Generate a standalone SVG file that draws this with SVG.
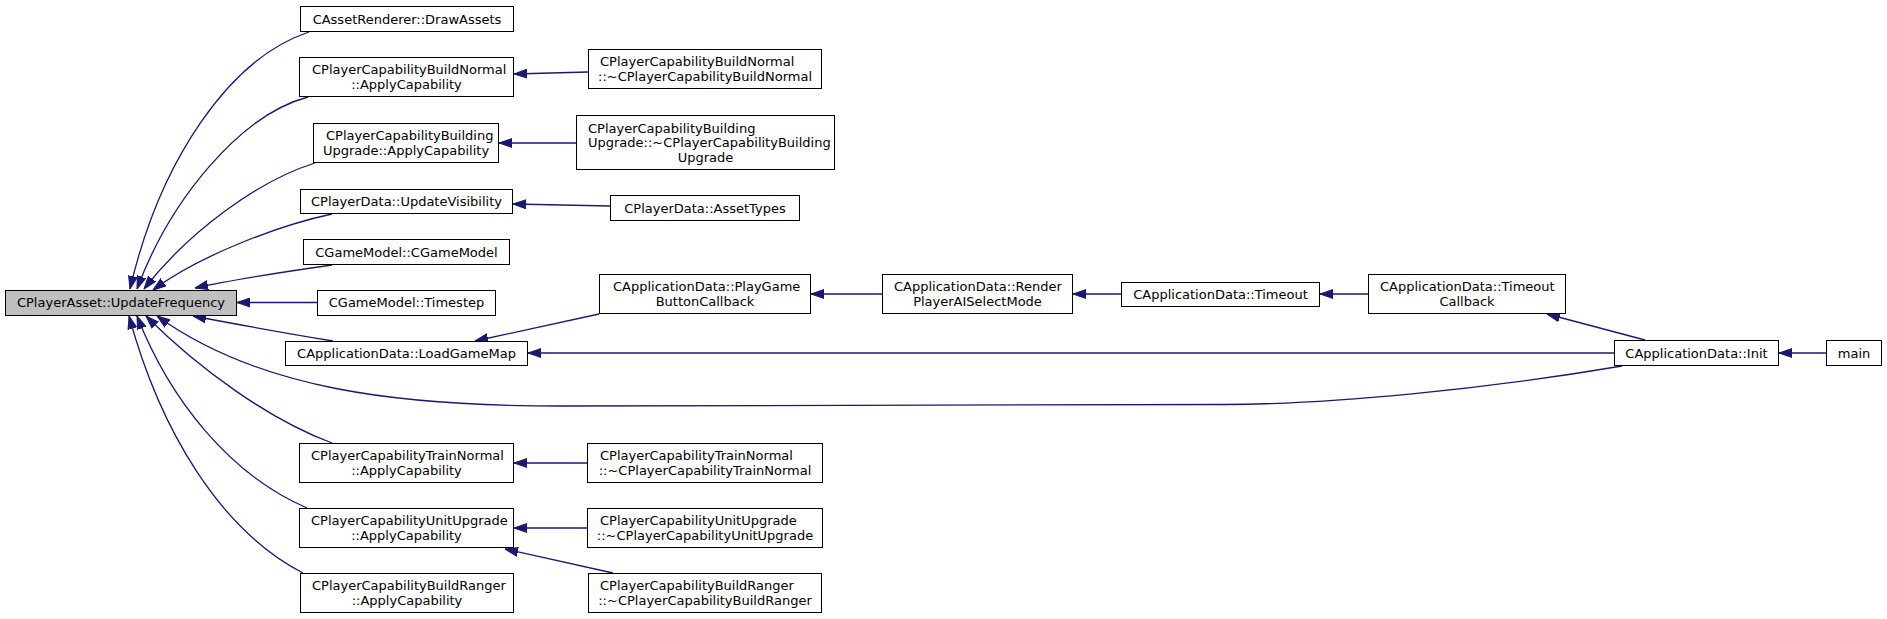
<svg xmlns="http://www.w3.org/2000/svg" width="1887" height="619" viewBox="0 0 1887 619">
<style>
.n rect{fill:#fff;stroke:#000;stroke-width:1}
.n.root rect{fill:#bfbfbf}
.n text{font-family:"DejaVu Sans","Liberation Sans",sans-serif;font-size:13px;fill:#000}
.m{text-anchor:middle}
.e path{fill:none;stroke:#191970;stroke-width:1.3}
</style>
<defs>
<marker id="ah" viewBox="0 0 13 10" refX="13" refY="5" markerWidth="13" markerHeight="10" markerUnits="userSpaceOnUse" orient="auto">
<path d="M0,0.5 L13,5 L0,9.5 z" fill="#191970" stroke="#191970" stroke-width="1"/>
</marker>
</defs>
<rect width="1887" height="619" fill="#fff"/>
<g class="e" id="edges">
<path marker-end="url(#ah)" d="M309,32 C230,58 160,160 130,289"/>
<path marker-end="url(#ah)" d="M308,97 C240,115 170,200 137,289"/>
<path marker-end="url(#ah)" d="M315,163 C260,180 190,230 144,289"/>
<path marker-end="url(#ah)" d="M332,214 C280,225 200,255 153,290"/>
<path marker-end="url(#ah)" d="M332,265 C290,271 230,280 195,288"/>
<path marker-end="url(#ah)" d="M317,302.5 L237,302.5"/>
<path marker-end="url(#ah)" d="M333,341 C290,334 230,323 193,316"/>
<path marker-end="url(#ah)" d="M1622,366 C1480,390 1330,404 1225,404.5 L560,406 C400,406 260,390 157,316"/>
<path marker-end="url(#ah)" d="M332,443 C270,420 200,370 146,316"/>
<path marker-end="url(#ah)" d="M307,508 C230,475 170,400 137,316"/>
<path marker-end="url(#ah)" d="M303,573 C220,530 160,430 129,316"/>
<path marker-end="url(#ah)" d="M588,72 L514,74"/>
<path marker-end="url(#ah)" d="M576,143 L499,143"/>
<path marker-end="url(#ah)" d="M610,206 L513,204"/>
<path marker-end="url(#ah)" d="M599,314 L475,341"/>
<path marker-end="url(#ah)" d="M1614,353 L528,353"/>
<path marker-end="url(#ah)" d="M882,294 L811,294"/>
<path marker-end="url(#ah)" d="M1121,294 L1073,294"/>
<path marker-end="url(#ah)" d="M1368,294 L1320,294"/>
<path marker-end="url(#ah)" d="M1645,340 L1547,314"/>
<path marker-end="url(#ah)" d="M1826,353 L1779,353"/>
<path marker-end="url(#ah)" d="M587,463 L514,463"/>
<path marker-end="url(#ah)" d="M587,528 L514,528"/>
<path marker-end="url(#ah)" d="M613,573 L505,549"/>
</g>
<g class="n root" id="n_root"><rect x="5.5" y="290.5" width="231" height="25"/><text class="m" x="121" y="307">CPlayerAsset::UpdateFrequency</text></g>
<g class="n" id="n_drawassets"><rect x="300.5" y="6.5" width="213" height="25"/><text class="m" x="407" y="23.5">CAssetRenderer::DrawAssets</text></g>
<g class="n" id="n_buildnormal"><rect x="299.5" y="57.5" width="214" height="39"/><text x="312" y="74">CPlayerCapabilityBuildNormal</text><text class="m" x="406.5" y="89">::ApplyCapability</text></g>
<g class="n" id="n_buildingupgrade"><rect x="313.5" y="123.5" width="185" height="39"/><text x="326" y="140">CPlayerCapabilityBuilding</text><text class="m" x="406" y="155">Upgrade::ApplyCapability</text></g>
<g class="n" id="n_updatevisibility"><rect x="300.5" y="189.5" width="212" height="24"/><text class="m" x="406.5" y="206">CPlayerData::UpdateVisibility</text></g>
<g class="n" id="n_cgamemodel"><rect x="303.5" y="239.5" width="206" height="25"/><text class="m" x="406.5" y="256.5">CGameModel::CGameModel</text></g>
<g class="n" id="n_timestep"><rect x="317.5" y="290.5" width="178" height="25"/><text class="m" x="406.5" y="307">CGameModel::Timestep</text></g>
<g class="n" id="n_loadgamemap"><rect x="285.5" y="341.5" width="242" height="24"/><text class="m" x="406.5" y="358">CApplicationData::LoadGameMap</text></g>
<g class="n" id="n_trainnormal"><rect x="299.5" y="443.5" width="214" height="39"/><text x="311" y="460">CPlayerCapabilityTrainNormal</text><text class="m" x="406.5" y="475">::ApplyCapability</text></g>
<g class="n" id="n_unitupgrade"><rect x="299.5" y="508.5" width="214" height="39"/><text x="311" y="525">CPlayerCapabilityUnitUpgrade</text><text class="m" x="406.5" y="540">::ApplyCapability</text></g>
<g class="n" id="n_buildranger"><rect x="300.5" y="573.5" width="213" height="39"/><text x="312" y="590">CPlayerCapabilityBuildRanger</text><text class="m" x="407" y="605">::ApplyCapability</text></g>
<g class="n" id="n_dtor_buildnormal"><rect x="588.5" y="49.5" width="233" height="39"/><text x="600" y="66">CPlayerCapabilityBuildNormal</text><text class="m" x="705" y="81">::~CPlayerCapabilityBuildNormal</text></g>
<g class="n" id="n_dtor_buildingupgrade"><rect x="576.5" y="115.5" width="258" height="54"/><text x="588" y="132.5">CPlayerCapabilityBuilding</text><text x="588" y="147.2">Upgrade::~CPlayerCapabilityBuilding</text><text class="m" x="705.5" y="162">Upgrade</text></g>
<g class="n" id="n_assettypes"><rect x="610.5" y="195.5" width="189" height="25"/><text class="m" x="705" y="212.5">CPlayerData::AssetTypes</text></g>
<g class="n" id="n_playgame"><rect x="599.5" y="274.5" width="211" height="39"/><text x="613" y="291">CApplicationData::PlayGame</text><text class="m" x="705" y="306">ButtonCallback</text></g>
<g class="n" id="n_render"><rect x="882.5" y="274.5" width="190" height="39"/><text x="894" y="291">CApplicationData::Render</text><text class="m" x="977.5" y="306">PlayerAISelectMode</text></g>
<g class="n" id="n_timeout"><rect x="1121.5" y="282.5" width="198" height="24"/><text class="m" x="1220.5" y="299">CApplicationData::Timeout</text></g>
<g class="n" id="n_timeoutcallback"><rect x="1368.5" y="274.5" width="197" height="39"/><text x="1380" y="291">CApplicationData::Timeout</text><text class="m" x="1467" y="306">Callback</text></g>
<g class="n" id="n_init"><rect x="1614.5" y="340.5" width="164" height="25"/><text class="m" x="1696.5" y="357.5">CApplicationData::Init</text></g>
<g class="n" id="n_main"><rect x="1826.5" y="340.5" width="55" height="25"/><text class="m" x="1854" y="357.5">main</text></g>
<g class="n" id="n_dtor_trainnormal"><rect x="587.5" y="443.5" width="235" height="39"/><text x="600" y="460">CPlayerCapabilityTrainNormal</text><text class="m" x="705" y="475">::~CPlayerCapabilityTrainNormal</text></g>
<g class="n" id="n_dtor_unitupgrade"><rect x="587.5" y="508.5" width="235" height="39"/><text x="600" y="525">CPlayerCapabilityUnitUpgrade</text><text class="m" x="705" y="540">::~CPlayerCapabilityUnitUpgrade</text></g>
<g class="n" id="n_dtor_buildranger"><rect x="588.5" y="573.5" width="233" height="39"/><text x="600" y="590">CPlayerCapabilityBuildRanger</text><text class="m" x="705" y="605">::~CPlayerCapabilityBuildRanger</text></g>
</svg>
